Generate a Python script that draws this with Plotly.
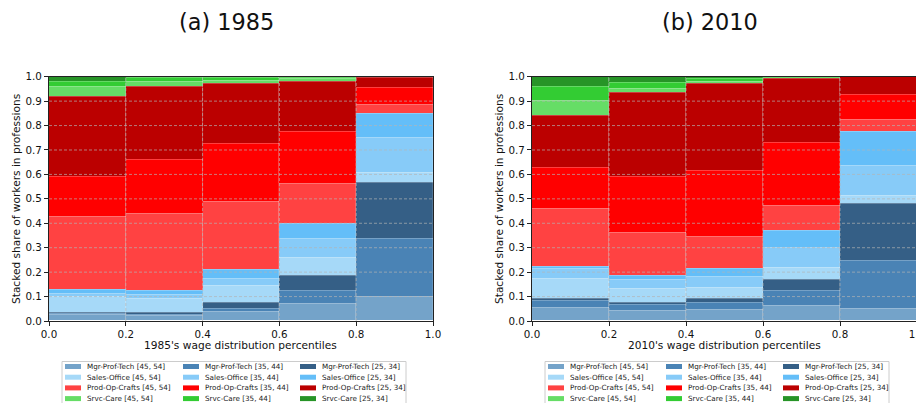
import plotly.graph_objects as go
from plotly.subplots import make_subplots

W, H = 924, 403
PAGE_OFFSET = 8  # the page body margin shifts the figure by this many pixels

# wage distribution bins (centres), each 0.2 wide
bin_centers = [0.1, 0.3, 0.5, 0.7, 0.9]
x_ticks = [0.0, 0.2, 0.4, 0.6, 0.8, 1.0]
y_ticks = [0.0, 0.1, 0.2, 0.3, 0.4, 0.5, 0.6, 0.7, 0.8, 0.9, 1.0]

series_names = [
    "Mgr-Prof-Tech [45, 54]", "Mgr-Prof-Tech [35, 44]", "Mgr-Prof-Tech [25, 34]",
    "Sales-Office [45, 54]", "Sales-Office [35, 44]", "Sales-Office [25, 34]",
    "Prod-Op-Crafts [45, 54]", "Prod-Op-Crafts [35, 44]", "Prod-Op-Crafts [25, 34]",
    "Srvc-Care [45, 54]", "Srvc-Care [35, 44]", "Srvc-Care [25, 34]",
]
series_colors = [
    "#74a3c9", "#4a83b5", "#355f86",
    "#a6d9f8", "#87cbf8", "#64bef8",
    "#ff4242", "#ff0000", "#bb0000",
    "#66dd66", "#33cc33", "#279427",
]

# 1985 shares of workers per wage bin
mgr_45_1985 = [0.025, 0.022, 0.038, 0.070, 0.100]
mgr_35_1985 = [0.005, 0.005, 0.014, 0.053, 0.237]
mgr_25_1985 = [0.006, 0.006, 0.023, 0.064, 0.228]
sales_45_1985 = [0.062, 0.057, 0.069, 0.072, 0.043]
sales_35_1985 = [0.013, 0.018, 0.029, 0.078, 0.141]
sales_25_1985 = [0.017, 0.017, 0.037, 0.062, 0.099]
prod_45_1985 = [0.298, 0.313, 0.277, 0.165, 0.038]
prod_35_1985 = [0.165, 0.224, 0.237, 0.211, 0.067]
prod_25_1985 = [0.329, 0.296, 0.248, 0.206, 0.043]
srvc_45_1985 = [0.041, 0.021, 0.011, 0.009, 0.002]
srvc_35_1985 = [0.017, 0.015, 0.014, 0.007, 0.001]
srvc_25_1985 = [0.022, 0.006, 0.003, 0.003, 0.001]

# 2010 shares of workers per wage bin
mgr_45_2010 = [0.056, 0.043, 0.045, 0.062, 0.052]
mgr_35_2010 = [0.026, 0.023, 0.029, 0.061, 0.194]
mgr_25_2010 = [0.011, 0.009, 0.016, 0.046, 0.233]
sales_45_2010 = [0.080, 0.059, 0.045, 0.048, 0.035]
sales_35_2010 = [0.041, 0.035, 0.045, 0.082, 0.121]
sales_25_2010 = [0.009, 0.018, 0.033, 0.071, 0.140]
prod_45_2010 = [0.237, 0.175, 0.134, 0.100, 0.048]
prod_35_2010 = [0.169, 0.229, 0.270, 0.261, 0.103]
prod_25_2010 = [0.210, 0.342, 0.355, 0.261, 0.073]
srvc_45_2010 = [0.063, 0.018, 0.009, 0.006, 0.001]
srvc_35_2010 = [0.056, 0.024, 0.011, 0.001, 0.0]
srvc_25_2010 = [0.042, 0.025, 0.008, 0.001, 0.0]

shares_1985 = [mgr_45_1985, mgr_35_1985, mgr_25_1985, sales_45_1985, sales_35_1985, sales_25_1985,
               prod_45_1985, prod_35_1985, prod_25_1985, srvc_45_1985, srvc_35_1985, srvc_25_1985]
shares_2010 = [mgr_45_2010, mgr_35_2010, mgr_25_2010, sales_45_2010, sales_35_2010, sales_25_2010,
               prod_45_2010, prod_35_2010, prod_25_2010, srvc_45_2010, srvc_35_2010, srvc_25_2010]

FONT = "DejaVu Sans"
TEXT_COLOR = "#111111"


def px_x(x):
    return (x - PAGE_OFFSET) / W


def px_y(y):
    return 1 - (y - PAGE_OFFSET) / H


def add_text(fig, x, y, text, size, angle=0, xanchor="center", color=TEXT_COLOR):
    fig.add_annotation(x=px_x(x), y=px_y(y), xref="paper", yref="paper", text=text,
                       showarrow=False, xanchor=xanchor, yanchor="middle", textangle=angle,
                       font=dict(family=FONT, size=size, color=color))


def add_legend(fig, box_left):
    """matplotlib-like legend drawn below a subplot (3 columns, clipped at the bottom)"""
    fig.add_shape(type="rect", xref="paper", yref="paper",
                  x0=px_x(box_left), x1=px_x(box_left + 344), y0=px_y(361.5), y1=0.0,
                  line=dict(color="#cccccc", width=1), fillcolor="white", layer="above")
    col_offsets = [3, 121, 238]
    for i, (name, color) in enumerate(zip(series_names, series_colors)):
        row, col = i // 3, i % 3
        yc = 366.5 + 10.7 * row
        xs = box_left + col_offsets[col]
        fig.add_shape(type="rect", xref="paper", yref="paper",
                      x0=px_x(xs), x1=px_x(xs + 16), y0=px_y(yc + 2.5), y1=px_y(yc - 2.5),
                      line=dict(width=0), fillcolor=color, layer="above")
        add_text(fig, xs + 20, yc, name, 7.2, xanchor="left", color="#222222")


fig = make_subplots(rows=1, cols=2)

for col, shares in [(1, shares_1985), (2, shares_2010)]:
    for name, color, vals in zip(series_names, series_colors, shares):
        fig.add_trace(go.Bar(
            x=bin_centers, y=vals, width=0.2, name=name,
            marker=dict(color=color, line=dict(color="rgba(255,255,255,0.22)", width=0.6)),
            showlegend=False,
        ), row=1, col=col)

    # dashed grid drawn over the bars
    xr, yr = ("x", "y") if col == 1 else ("x2", "y2")
    for g in y_ticks[1:-1]:
        fig.add_shape(type="line", xref=xr, yref=yr, x0=0, x1=1, y0=g, y1=g,
                      line=dict(color="rgba(180,180,180,0.85)", width=0.8, dash="3px,2px"), layer="above")
    for g in x_ticks[1:-1]:
        fig.add_shape(type="line", xref=xr, yref=yr, x0=g, x1=g, y0=0, y1=1,
                      line=dict(color="rgba(180,180,180,0.85)", width=0.8, dash="3px,2px"), layer="above")

axis_style = dict(
    showline=True, mirror=True, linecolor="#222222", linewidth=1,
    ticks="outside", ticklen=4, tickcolor="#222222",
    showgrid=False, zeroline=False, automargin=False,
    tickfont=dict(family=FONT, size=10.3, color=TEXT_COLOR),
    tickformat=".1f",
)

fig.update_xaxes(range=[0, 1], tickvals=x_ticks, **axis_style)
fig.update_yaxes(range=[0, 1], tickvals=y_ticks, **axis_style)

fig.update_layout(
    xaxis=dict(domain=[px_x(49), px_x(433)]),
    xaxis2=dict(domain=[px_x(532), px_x(917)]),
    yaxis=dict(domain=[px_y(321), px_y(76.7)]),
    yaxis2=dict(domain=[px_y(321), px_y(76.7)]),
    barmode="stack",
    bargap=0,
    width=W,
    height=H,
    margin=dict(l=0, r=0, t=0, b=0, autoexpand=False),
    plot_bgcolor="white",
    paper_bgcolor="white",
    font=dict(family=FONT),
)

# panel titles and axis titles
add_text(fig, 226, 22, "(a) 1985", 22.4)
add_text(fig, 710, 22, "(b) 2010", 22.4)
add_text(fig, 241, 345, "1985's wage distribution percentiles", 10.6)
add_text(fig, 724.5, 345, "2010's wage distribution percentiles", 10.6)
add_text(fig, 16, 199, "Stacked share of workers in professions", 10.6, angle=-90)
add_text(fig, 499, 199, "Stacked share of workers in professions", 10.6, angle=-90)

add_legend(fig, 62)
add_legend(fig, 545)

fig.write_html("out.html")
